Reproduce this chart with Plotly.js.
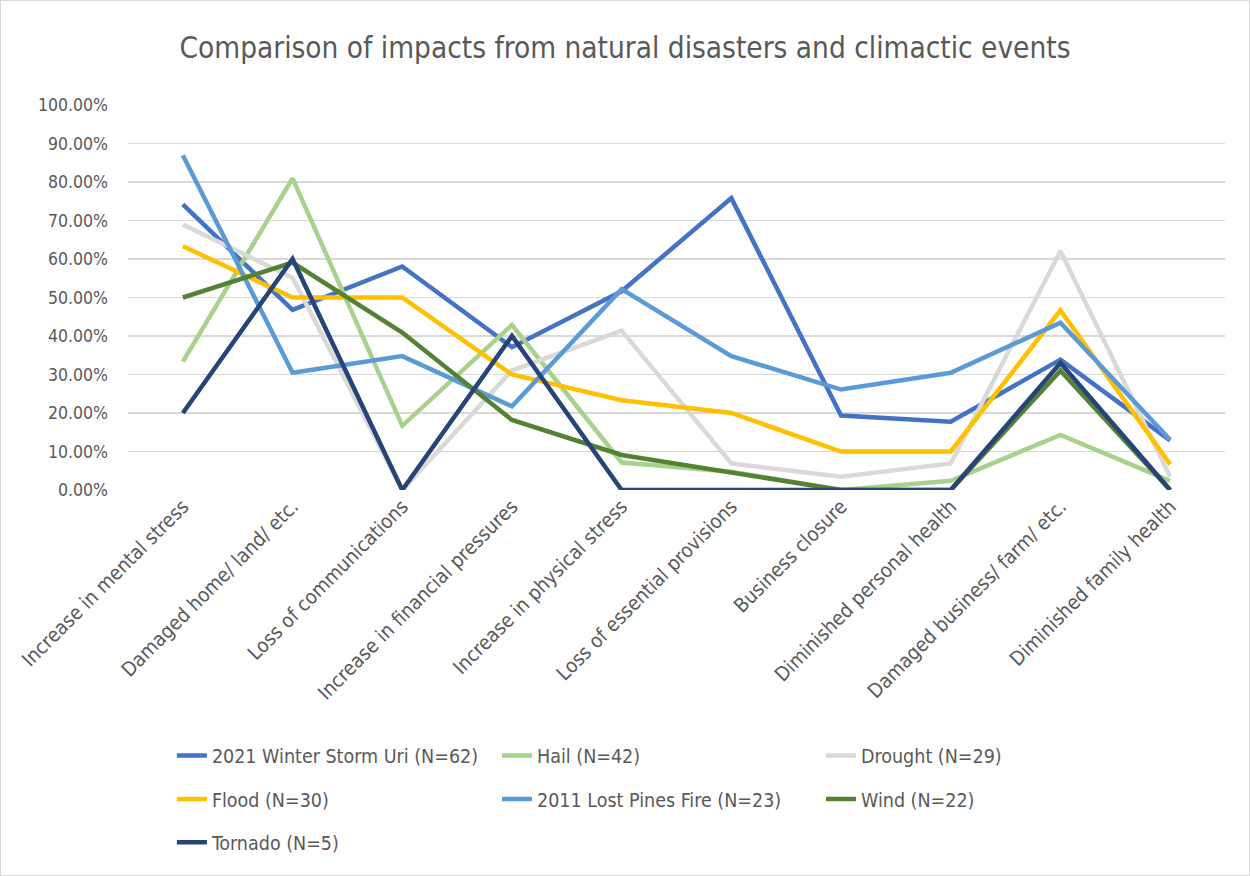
<!DOCTYPE html>
<html><head><meta charset="utf-8">
<script src="https://cdn.plot.ly/plotly-3.0.1.min.js"></script>
<style>html,body{margin:0;padding:0;background:#fff}#chart{width:1250px;height:876px;box-sizing:border-box;border:1px solid #d9d9d9}</style>
</head><body><div id="chart"></div>
<script>
const categories = ["Increase in mental stress","Damaged home/ land/ etc.","Loss of communications","Increase in financial pressures","Increase in physical stress","Loss of essential provisions","Business closure","Diminished personal health","Damaged business/ farm/ etc.","Diminished family health"];
const uri = [0.7419,0.4677,0.5806,0.3710,0.5161,0.7581,0.1935,0.1774,0.3387,0.1290];
const hail = [0.3333,0.8095,0.1667,0.4286,0.0714,0.0476,0.0,0.0238,0.1429,0.0238];
const drought = [0.6897,0.5517,0.0,0.3103,0.4138,0.0690,0.0345,0.0690,0.6207,0.0345];
const flood = [0.6333,0.5000,0.5000,0.3000,0.2333,0.2000,0.1000,0.1000,0.4667,0.0667];
const lostPines = [0.8696,0.3043,0.3478,0.2174,0.5217,0.3478,0.2609,0.3043,0.4348,0.1304];
const wind = [0.5000,0.5909,0.4091,0.1818,0.0909,0.0455,0.0,0.0,0.3100,0.0];
const tornado = [0.20,0.60,0.0,0.40,0.0,0.0,0.0,0.0,0.33,0.0];
const yTickVals = [0,0.1,0.2,0.3,0.4,0.5,0.6,0.7,0.8,0.9,1.0];

const FONT = "'DejaVu Sans Condensed', 'Liberation Sans Narrow', Roboto, sans-serif";
const series = [
  {name:"2021 Winter Storm Uri (N=62)", y:uri, color:"#4472C4", legend:"legend"},
  {name:"Hail (N=42)", y:hail, color:"#A9D18E", legend:"legend2"},
  {name:"Drought (N=29)", y:drought, color:"#D9D9D9", legend:"legend3"},
  {name:"Flood (N=30)", y:flood, color:"#FFC000", legend:"legend"},
  {name:"2011 Lost Pines Fire (N=23)", y:lostPines, color:"#5B9BD5", legend:"legend2"},
  {name:"Wind (N=22)", y:wind, color:"#548235", legend:"legend3"},
  {name:"Tornado (N=5)", y:tornado, color:"#264478", legend:"legend"}
];
const traces = series.map((s,i)=>({
  type:"scatter", mode:"lines", x:categories, y:s.y, name:s.name,
  line:{color:s.color, width:4.5}, legend:s.legend, legendgroup:"g"+i
}));
const legendBase = {orientation:"v", yanchor:"top", xanchor:"left", y:-0.64, tracegroupgap:15,
  font:{family:FONT, size:19.5, color:"#595959"}, bgcolor:"rgba(0,0,0,0)"};
const layout = {
  width:1248, height:874,
  margin:{l:127, r:24, t:104, b:385, autoexpand:false},
  paper_bgcolor:"#fff", plot_bgcolor:"#fff",
  title:{text:"Comparison of impacts from natural disasters and climactic events", font:{family:FONT, size:29.5, color:"#595959"}, x:0.5, xanchor:"center", y:0.947, yanchor:"middle"},
  xaxis:{type:"category", tickangle:-45, showgrid:false, showline:false, ticks:"", tickfont:{family:FONT, size:20, color:"#595959"}, range:[-0.5,9.5], fixedrange:true, automargin:false},
  yaxis:{range:[0,1.0], tickvals:yTickVals, tickformat:".2%", showgrid:true, gridcolor:"#D9D9D9", gridwidth:1.5, zeroline:false, showline:false, ticks:"", tickfont:{family:FONT, size:17.5, color:"#595959"}, ticklabelstandoff:19, automargin:false},
  legend:Object.assign({}, legendBase, {x:0.040}),
  legend2:Object.assign({}, legendBase, {x:0.3364}),
  legend3:Object.assign({}, legendBase, {x:0.6317}),
  showlegend:true
};
Plotly.newPlot("chart", traces, layout, {displayModeBar:false, staticPlot:true});
</script></body></html>
